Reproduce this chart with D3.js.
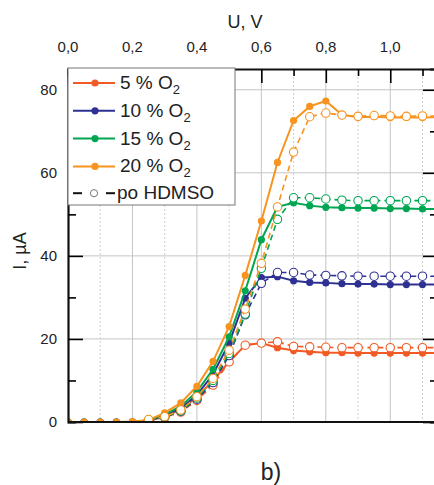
<!DOCTYPE html>
<html>
<head>
<meta charset="utf-8">
<script src="https://cdn.jsdelivr.net/npm/d3@7"></script>
<style>
  body { margin: 0; background: #fff; }
  svg { display: block; font-family: "Liberation Sans", Arial, sans-serif; }
</style>
</head>
<body>
<svg width="434" height="485"></svg>
<script>
// voltage steps, V
var voltage = [0, 0.05, 0.10, 0.15, 0.20, 0.25, 0.30, 0.35, 0.40, 0.45, 0.50, 0.55,
               0.60, 0.65, 0.70, 0.75, 0.80, 0.85, 0.90, 0.95, 1.00, 1.05, 1.10, 1.15];

// current, uA — solid lines (filled markers)
var o2_5  = [0, 0, 0, 0, 0, 0.3, 1.4, 3.0, 6.0, 10.0, 14.5, 18.5, 19.0, 17.9, 17.2, 16.9, 16.7, 16.7, 16.6, 16.6, 16.6, 16.6, 16.6, 16.6];
var o2_10 = [0, 0, 0, 0, 0, 0.3, 1.5, 3.3, 6.5, 11.5, 19.0, 29.8, 34.8, 35.0, 34.0, 33.6, 33.5, 33.3, 33.2, 33.2, 33.1, 33.1, 33.1, 33.1];
var o2_15 = [0, 0, 0, 0, 0, 0.4, 1.8, 3.8, 7.3, 12.7, 20.5, 31.6, 43.9, 51.8, 52.8, 52.1, 51.7, 51.6, 51.5, 51.5, 51.4, 51.4, 51.3, 51.3];
var o2_20 = [0, 0, 0, 0, 0.1, 0.5, 2.2, 4.6, 8.6, 14.6, 23.0, 35.3, 48.4, 62.5, 72.6, 76.0, 77.3, 74.0, 73.4, 73.5, 73.3, 73.4, 73.3, 73.4];

// current after HDMSO — dashed lines (open markers)
var po_5  = [null, null, null, null, null, 0.3, 1.1, 2.4, 5.2, 8.9, 14.5, 18.5, 19.0, 19.3, 18.2, 18.1, 18.0, 17.9, 17.9, 17.9, 17.9, 17.9, 17.9, 17.9];
var po_10 = [null, null, null, null, null, 0.3, 1.2, 2.6, 5.5, 9.5, 16.0, 25.8, 33.4, 36.0, 36.0, 35.4, 35.3, 35.2, 35.1, 35.1, 35.1, 35.1, 35.1, 35.1];
var po_15 = [null, null, null, null, null, 0.5, 1.2, 2.7, 5.8, 10.0, 16.5, 26.0, 37.0, 48.8, 54.0, 54.0, 53.7, 53.4, 53.3, 53.3, 53.3, 53.3, 53.3, 53.3];
var po_20 = [null, null, null, null, null, 0.6, 1.3, 2.9, 6.1, 10.5, 17.3, 27.2, 38.2, 51.8, 65.0, 73.5, 74.4, 73.9, 73.6, 73.8, 73.7, 73.6, 73.7, 73.7];

var legendLabels = ["5 % O", "10 % O", "15 % O", "20 % O"];
var xTickLabels = ["0,0", "0,2", "0,4", "0,6", "0,8", "1,0"];
var yTicks = [0, 20, 40, 60, 80];

var colors = ["#f15a24", "#2e3192", "#00a651", "#f7931e"];

var solid = [o2_5, o2_10, o2_15, o2_20];
var dashed = [po_5, po_10, po_15, po_20];

var svg = d3.select("svg");
var pL = 68, pR = 437, pT = 69, pB = 422;

var x = d3.scaleLinear().domain([0, 1.145]).range([pL, pR]);
var y = d3.scaleLinear().domain([0, 85]).range([pB, pT]);

svg.append("defs").append("clipPath").attr("id", "clip")
  .append("rect").attr("x", pL).attr("y", pT).attr("width", pR - pL).attr("height", pB - pT);

// grid
var g = svg.append("g");
g.selectAll(".vminor").data(d3.range(0.1, 1.15, 0.2)).enter().append("line")
  .attr("x1", d => x(d)).attr("x2", d => x(d)).attr("y1", pT).attr("y2", pB)
  .attr("stroke", "#cfcfcf").attr("stroke-width", 1).attr("stroke-dasharray", "2,2");
g.selectAll(".vmajor").data(d3.range(0.2, 1.15, 0.2)).enter().append("line")
  .attr("x1", d => x(d)).attr("x2", d => x(d)).attr("y1", pT).attr("y2", pB)
  .attr("stroke", "#c4c4c4").attr("stroke-width", 1);
g.selectAll(".hmajor").data(yTicks.slice(1)).enter().append("line")
  .attr("x1", pL).attr("x2", pR).attr("y1", d => y(d)).attr("y2", d => y(d))
  .attr("stroke", "#c4c4c4").attr("stroke-width", 1);

// series
var plot = svg.append("g").attr("clip-path", "url(#clip)");
var line = d3.line().defined(d => d[1] != null).x(d => x(d[0])).y(d => y(d[1]));

solid.forEach(function(s, i) {
  var pts = voltage.map((v, j) => [v, s[j]]);
  plot.append("path").datum(pts).attr("d", line)
    .attr("fill", "none").attr("stroke", colors[i]).attr("stroke-width", 2);
  plot.selectAll(null).data(pts).enter().append("circle")
    .attr("cx", d => x(d[0])).attr("cy", d => y(d[1])).attr("r", 3.6)
    .attr("fill", colors[i]);
});

dashed.forEach(function(s, i) {
  var pts = voltage.map((v, j) => [v, s[j]]).filter(d => d[1] != null);
  plot.append("path").datum(pts).attr("d", line)
    .attr("fill", "none").attr("stroke", colors[i]).attr("stroke-width", 1.6)
    .attr("stroke-dasharray", "6,4");
  plot.selectAll(null).data(pts).enter().append("circle")
    .attr("cx", d => x(d[0])).attr("cy", d => y(d[1])).attr("r", 4.2)
    .attr("fill", "#fff").attr("stroke", colors[i]).attr("stroke-width", 1.1);
});

// axes
var axisL = d3.axisRight(y).tickValues(d3.range(0, 85, 10)).tickSize(8).tickFormat("");
var la = svg.append("g").attr("transform", "translate(" + pL + ",0)").call(axisL);
la.selectAll(".tick line").attr("x2", d => d % 20 === 0 ? 15 : 8).attr("stroke-width", 1.6);

svg.selectAll(".ylab").data(yTicks).enter().append("text")
  .attr("x", 57).attr("y", d => y(d) + 5).attr("text-anchor", "end")
  .attr("font-size", 15).attr("fill", "#222").text(d => d);

var axisR = d3.axisLeft(y).tickValues(d3.range(0, 85, 10)).tickSize(7).tickFormat("");
var ra = svg.append("g").attr("transform", "translate(" + pR + ",0)").call(axisR);
ra.selectAll(".tick line").attr("x2", d => d % 20 === 0 ? -14 : -7).attr("stroke-width", 1.6);

var axisT = d3.axisBottom(x).tickValues(d3.range(0, 1.15, 0.1)).tickSize(7).tickFormat("");
var ta = svg.append("g").attr("transform", "translate(0," + pT + ")").call(axisT);
ta.selectAll(".tick line").attr("y2", (d, i) => i % 2 === 0 ? 14 : 7).attr("stroke-width", 1.6);

svg.selectAll(".xlab").data(xTickLabels).enter().append("text")
  .attr("x", (d, i) => x(i * 0.2)).attr("y", 52).attr("text-anchor", "middle")
  .attr("font-size", 15).attr("fill", "#222").text(d => d);

[la, ra, ta].forEach(a => a.select(".domain").attr("stroke", "#111").attr("stroke-width", 2.2));
svg.append("line").attr("x1", pL).attr("x2", pR).attr("y1", pB).attr("y2", pB)
  .attr("stroke", "#111").attr("stroke-width", 2.2);

// titles
svg.append("text").attr("x", 245).attr("y", 28).attr("text-anchor", "middle")
  .attr("font-size", 18).attr("fill", "#222").text("U, V");
svg.append("text").attr("transform", "translate(26,251) rotate(-90)").attr("text-anchor", "middle")
  .attr("font-size", 18).attr("fill", "#222").text("I, µA");
svg.append("text").attr("x", 271).attr("y", 480).attr("text-anchor", "middle")
  .attr("font-size", 23).attr("fill", "#222").text("b)");

// legend
var lg = svg.append("g");
lg.append("rect").attr("x", pL).attr("y", pT - 1).attr("width", 167).attr("height", 137)
  .attr("fill", "#fff").attr("stroke", "#777").attr("stroke-width", 1);
legendLabels.forEach(function(t, i) {
  var ly = 83 + i * 27.8;
  lg.append("line").attr("x1", 73).attr("x2", 115).attr("y1", ly).attr("y2", ly)
    .attr("stroke", colors[i]).attr("stroke-width", 2);
  lg.append("circle").attr("cx", 95).attr("cy", ly).attr("r", 3.6).attr("fill", colors[i]);
  var tx = lg.append("text").attr("x", 120).attr("y", ly + 6).attr("font-size", 19).attr("fill", "#222").text(t);
  tx.append("tspan").attr("dy", 5).attr("font-size", 13).text("2");
});
var py = 83 + 4 * 27.8 - 1;
lg.append("line").attr("x1", 73).attr("x2", 82).attr("y1", py).attr("y2", py).attr("stroke", "#111").attr("stroke-width", 2);
lg.append("line").attr("x1", 106).attr("x2", 115).attr("y1", py).attr("y2", py).attr("stroke", "#111").attr("stroke-width", 2);
lg.append("circle").attr("cx", 94).attr("cy", py).attr("r", 3.6).attr("fill", "#fff").attr("stroke", "#777").attr("stroke-width", 1);
lg.append("text").attr("x", 117).attr("y", py + 6).attr("font-size", 19).attr("fill", "#222").text("po HDMSO");
</script>
</body>
</html>
